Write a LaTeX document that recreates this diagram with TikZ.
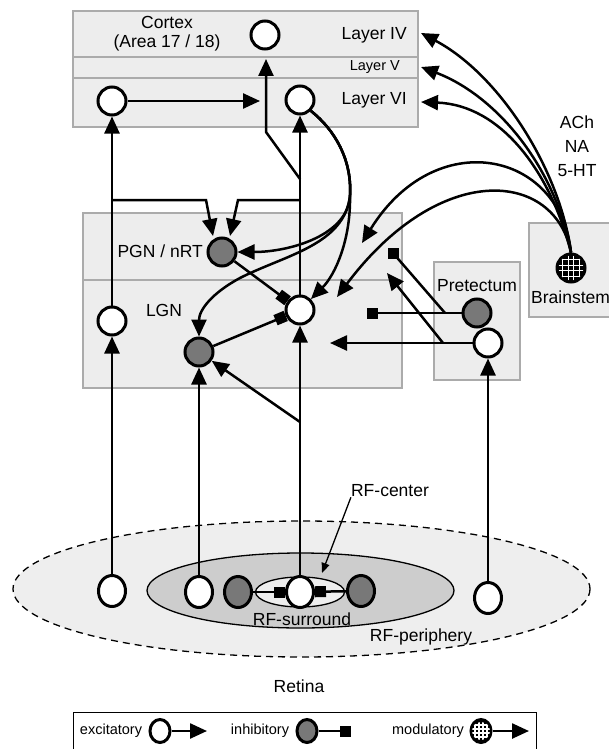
\documentclass[tikz,border=0pt]{standalone}
\usepackage{fontspec}
\setmainfont{Liberation Sans}
\usetikzlibrary{arrows.meta,shapes.geometric}
\definecolor{boxfill}{HTML}{EDEDED}
\definecolor{boxline}{HTML}{ABABAB}
\definecolor{inhfill}{HTML}{787878}
\definecolor{surfill}{HTML}{CDCDCD}
\definecolor{retfill}{HTML}{EEEEEE}
\newcommand\mymodgrid[3]{%
  \begin{scope}
    \clip (#1.center) circle (#2);
    \foreach \kk in {-1.5,-0.5,0.5,1.5}{%
      \draw[white,line width=1.2pt] ([xshift={\kk*#3 pt}]#1.center) ++(0,-20) -- ++(0,40);
      \draw[white,line width=1.2pt] ([yshift={\kk*#3 pt}]#1.center) ++(-20,0) -- ++(40,0);
    }
  \end{scope}}
\begin{document}
\begin{tikzpicture}[x=1pt,y=-1pt,
  area/.style={draw=boxline,fill=boxfill,line width=1.5pt},
  lbl/.style={font=\fontsize{17.5}{19}\selectfont,inner sep=0pt},
  slbl/.style={font=\fontsize{14.5}{17}\selectfont,inner sep=0pt},
  neuron/.style={circle,draw=black,line width=3pt,minimum size=28pt,inner sep=0pt},
  excn/.style={neuron,fill=white},
  inhn/.style={neuron,fill=inhfill},
  modn/.style={neuron,fill=black},
  rneuron/.style={ellipse,draw=black,line width=3pt,minimum width=27pt,minimum height=31pt,inner sep=0pt},
  rexc/.style={rneuron,fill=white},
  rinh/.style={rneuron,fill=inhfill},
  con/.style={line width=2.5pt},
  exarr/.style={con,-{Triangle[length=17pt,width=15pt]}},
  inharr/.style={con,-{Square[length=11pt,width=11pt]}},
]
\useasboundingbox (0,0) rectangle (609,749);

% boxes
\draw[area] (73,11) rectangle (418,57);
\draw[area] (73,57) rectangle (418,78);
\draw[area] (73,78) rectangle (418,127);
\draw[area] (83,213) rectangle (402,280);
\draw[area] (83,280) rectangle (402,388);
\draw[area] (434,262) rectangle (520,380);
\draw[area] (529,223) rectangle (625,317);

% retina ellipses
\draw[dash pattern=on 7pt off 5pt,line width=1.3pt,fill=retfill] (301.5,589) ellipse [x radius=288.5,y radius=68];
\draw[line width=1.3pt,fill=surfill] (300.5,590.5) ellipse [x radius=153.5,y radius=37.5];
\draw[line width=1.3pt,fill=retfill] (300,592) ellipse [x radius=44.5,y radius=15];

% legend box
\draw[line width=1pt] (73,712) rectangle (536,770);

% neurons
\node[excn] (L4) at (265,35) {};
\node[excn] (L6l) at (112,101) {};
\node[excn] (L6r) at (300,100) {};
\node[inhn] (PGN) at (222,252) {};
\node[excn] (LGNl) at (112,321) {};
\node[excn] (relay) at (300,310) {};
\node[inhn] (intn) at (199,352) {};
\node[inhn] (preI) at (477,313) {};
\node[excn] (preE) at (488,343) {};
\node[modn] (bs) at (571,268) {};
\node[rexc] (r1) at (112,591) {};
\node[rexc] (r2) at (199,592) {};
\node[rinh] (r3) at (238,592) {};
\node[rexc] (r4) at (300,592) {};
\node[rinh] (r5) at (361,591) {};
\node[rexc] (r6) at (488,598) {};
\mymodgrid{bs}{12.5}{5.5}

% labels
\node[lbl,align=center] (ctx) at (167,34) {Cortex\\(Area 17 / 18)};
\node[lbl,anchor=east] (l4t) at (407,35) {Layer IV};
\node[slbl,anchor=east] (l5t) at (400,67) {Layer V};
\node[lbl,anchor=east] (l6t) at (407,100) {Layer VI};
\node[lbl,anchor=east] (pgnt) at (203,251) {PGN / nRT};
\node[lbl] (lgnt) at (164,310) {LGN};
\node[lbl] (pret) at (477,286) {Pretectum};
\node[lbl,anchor=west] (bst) at (531,297) {Brainstem};
\node[lbl,align=center,font=\fontsize{17.5}{24}\selectfont] (nt) at (577,146) {ACh\\NA\\5-HT};
\node[lbl] (rfc) at (390,491) {RF-center};
\node[lbl] (rfs) at (302,619) {RF-surround};
\node[lbl] (rfp) at (421,637) {RF-periphery};
\node[lbl] (ret) at (299,686) {Retina};

% cortex internal
\coordinate (L6in) at (260,101);
\draw[exarr] (L6l) -- (L6in);
% LGN left relay
\draw[exarr] (LGNl) -- (L6l);
\coordinate (jl) at (112,200); \coordinate (jlb) at (206,200); \coordinate (pgnA) at (213,236);
\draw[exarr] (jl) -- (jlb) -- (pgnA);
% LGN central relay
\draw[exarr] (relay) -- (L6r);
\coordinate (jr) at (300,179); \coordinate (jrb) at (266,132); \coordinate (L4in) at (266,59);
\draw[exarr] (jr) -- (jrb) -- (L4in);
\coordinate (jr2) at (300,200); \coordinate (jr2b) at (238,200); \coordinate (pgnB) at (230,236);
\draw[exarr] (jr2) -- (jr2b) -- (pgnB);

% layer VI feedback
\coordinate (fan) at (350,195);
\draw[exarr] (L6r.-45) .. controls (335,130) and (352,160) .. (fan) .. controls (349,235) and (290,252) .. (PGN.east);
\draw[exarr] (L6r.-45) .. controls (335,130) and (352,160) .. (fan) .. controls (351,240) and (335,275) .. (relay.45);
\draw[exarr] (L6r.-45) .. controls (335,130) and (352,160) .. (fan) .. controls (345,245) and (285,255) .. (240,278) .. controls (212,293) and (199,310) .. (intn.north);

% LGN inhibition
\draw[inharr] (PGN) -- (relay);
\draw[inharr] (intn) -- (relay);

% pretectum
\coordinate (psq1) at (367,313);
\draw[inharr] (preI) -- (psq1);
\coordinate (pj1) at (445,313); \coordinate (psq2) at (393,253);
\draw[con] (pj1) -- (psq2);
\fill (psq2) +(-5.5,-5.5) rectangle +(5.5,5.5);
\coordinate (pe1) at (330,343);
\draw[exarr] (preE) -- (pe1);
\coordinate (pj2) at (443,343); \coordinate (pe2) at (387,273);
\draw[exarr] (pj2) -- (pe2);

% brainstem
\coordinate (L4tip) at (421,33); \coordinate (L5tip) at (421,67); \coordinate (L6tip) at (421,102);
\draw[exarr] (bs.north) .. controls (560,170) and (500,75) .. (L4tip);
\draw[exarr] (bs.north) .. controls (555,165) and (495,95) .. (L5tip);
\draw[exarr] (bs.north) .. controls (550,170) and (500,105) .. (L6tip);
\coordinate (pgnC) at (362,243); \coordinate (lgnC) at (337,297);
\draw[exarr] (bs.north) .. controls (560,150) and (435,125) .. (pgnC);
\draw[exarr] (bs.north) .. controls (555,170) and (440,160) .. (lgnC);

% retina
\draw[exarr] (r1) -- (LGNl);
\draw[exarr] (r2) -- (intn);
\draw[exarr] (r4) -- (relay);
\coordinate (rj) at (300,422);
\draw[exarr] (rj) -- (intn);
\draw[exarr] (r6) -- (preE);
\draw[inharr] (r3) -- (r4);
\draw[inharr] (r5) -- (r4);
\coordinate (rfctip) at (322,573);
\draw[line width=1.3pt,-{Triangle[length=10pt,width=8pt]}] (rfc.south west) -- (rfctip);

% legend
\node[rexc,minimum width=20pt,minimum height=23pt] (lgE) at (160,731) {};
\node[rinh,minimum width=20pt,minimum height=23pt] (lgI) at (307,731) {};
\node[rneuron,fill=black,minimum width=20pt,minimum height=23pt] (lgM) at (481,731) {};
\mymodgrid{lgM}{9}{4}
\node[slbl] (lgEt) at (111,731) {excitatory};
\node[slbl] (lgIt) at (260,731) {inhibitory};
\node[slbl] (lgMt) at (428,731) {modulatory};
\coordinate (lgEa) at (207,731);
\draw[exarr] (lgE) -- (lgEa);
\coordinate (lgIa) at (351,731);
\draw[inharr] (lgI) -- (lgIa);
\coordinate (lgMa) at (529,731);
\draw[exarr] (lgM) -- (lgMa);
\end{tikzpicture}
\end{document}
